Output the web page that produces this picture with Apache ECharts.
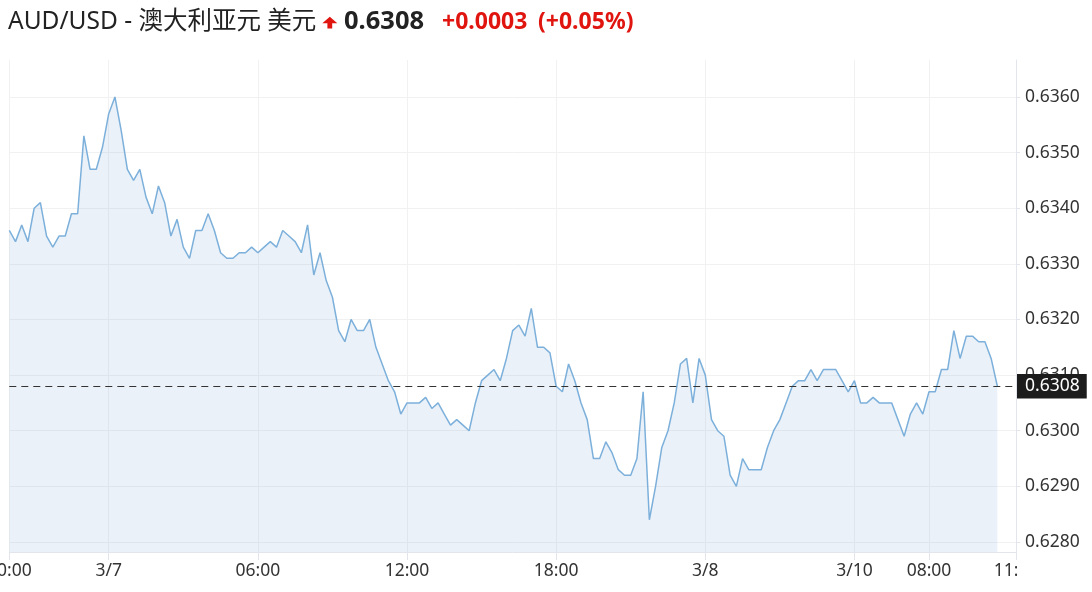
<!DOCTYPE html>
<html>
<head>
<meta charset="utf-8">
<script src="https://cdn.jsdelivr.net/npm/echarts@6/dist/echarts.min.js"></script>
<style>
html,body{margin:0;padding:0;background:#fff;}
#chart{width:1092px;height:592px;}
</style>
</head>
<body>
<div id="chart"></div>
<script>
// ---- data ----
const sessions = [
  ['3/6', '20:00', 16],
  ['3/7', '00:00', 96],
  ['3/8', '00:00', 24],
  ['3/10', '05:00', 24]
];
const padCategories = ['3/10 10:50', '3/10 10:55', '3/10 11:00'];

const prices = [
  0.6336, 0.6334, 0.6337, 0.6334, 0.6340, 0.6341, 0.6335, 0.6333, 0.6335, 0.6335,
  0.6339, 0.6339, 0.6353, 0.6347, 0.6347, 0.6351, 0.6357, 0.6360, 0.6354, 0.6347,
  0.6345, 0.6347, 0.6342, 0.6339, 0.6344, 0.6341, 0.6335, 0.6338, 0.6333, 0.6331,
  0.6336, 0.6336, 0.6339, 0.6336, 0.6332, 0.6331, 0.6331, 0.6332, 0.6332, 0.6333,
  0.6332, 0.6333, 0.6334, 0.6333, 0.6336, 0.6335, 0.6334, 0.6332, 0.6337, 0.6328,
  0.6332, 0.6327, 0.6324, 0.6318, 0.6316, 0.6320, 0.6318, 0.6318, 0.6320, 0.6315,
  0.6312, 0.6309, 0.6307, 0.6303, 0.6305, 0.6305, 0.6305, 0.6306, 0.6304, 0.6305,
  0.6303, 0.6301, 0.6302, 0.6301, 0.6300, 0.6305, 0.6309, 0.6310, 0.6311, 0.6309,
  0.6313, 0.6318, 0.6319, 0.6317, 0.6322, 0.6315, 0.6315, 0.6314, 0.6308, 0.6307,
  0.6312, 0.6309, 0.6305, 0.6302, 0.6295, 0.6295, 0.6298, 0.6296, 0.6293, 0.6292,
  0.6292, 0.6295, 0.6307, 0.6284, 0.6290, 0.6297, 0.6300, 0.6305, 0.6312, 0.6313,
  0.6305, 0.6313, 0.6310, 0.6302, 0.6300, 0.6299, 0.6292, 0.6290, 0.6295, 0.6293,
  0.6293, 0.6293, 0.6297, 0.6300, 0.6302, 0.6305, 0.6308, 0.6309, 0.6309, 0.6311,
  0.6309, 0.6311, 0.6311, 0.6311, 0.6309, 0.6307, 0.6309, 0.6305, 0.6305, 0.6306,
  0.6305, 0.6305, 0.6305, 0.6302, 0.6299, 0.6303, 0.6305, 0.6303, 0.6307, 0.6307,
  0.6311, 0.6311, 0.6318, 0.6313, 0.6317, 0.6317, 0.6316, 0.6316, 0.6313, 0.6308
];

const lastPrice = 0.6308;
const yTicks = [0.6280, 0.6290, 0.6300, 0.6310, 0.6320, 0.6330, 0.6340, 0.6350, 0.6360];
const xLabelText = {
  '3/6 20:00': '20:00',
  '3/7 00:00': '3/7',
  '3/7 06:00': '06:00',
  '3/7 12:00': '12:00',
  '3/7 18:00': '18:00',
  '3/8 00:00': '3/8',
  '3/10 05:00': '3/10',
  '3/10 08:00': '08:00',
  '3/10 11:00': '11:00'
};
const titleMain = 'AUD/USD - 澳大利亚元 美元';
const titlePrice = '0.6308';
const titleChange = '+0.0003';
const titlePct = '(+0.05%)';

// ---- categories (15-minute bars) ----
function sessionTimes(day, start, count) {
  const out = [];
  let [h, m] = start.split(':').map(Number);
  for (let i = 0; i < count; i++) {
    out.push(day + ' ' + String(h).padStart(2, '0') + ':' + String(m).padStart(2, '0'));
    m += 15; if (m >= 60) { m -= 60; h += 1; }
  }
  return out;
}
const categories = [];
sessions.forEach(s => categories.push(...sessionTimes(s[0], s[1], s[2])));
categories.push(...padCategories);

const showLabel = (idx, val) => xLabelText.hasOwnProperty(val);
const FONT = "'Noto Sans', 'Noto Sans CJK SC', sans-serif";
const RED = '#e0150f';

const chart = echarts.init(document.getElementById('chart'));
chart.setOption({
  animation: false,
  backgroundColor: '#fff',
  grid: { left: 9.3, right: 76, top: 60, bottom: 40, containLabel: false, outerBoundsMode: 'none' },
  xAxis: {
    type: 'category',
    data: categories,
    boundaryGap: false,
    axisLine: { show: true, lineStyle: { color: '#e2e5ec' } },
    axisTick: { show: true, interval: showLabel, length: 8, lineStyle: { color: '#e2e5ec' } },
    splitLine: { show: true, interval: showLabel, lineStyle: { color: '#f1f1f1' } },
    axisLabel: {
      interval: showLabel,
      formatter: v => xLabelText[v] || '',
      color: '#333', fontSize: 17.5, fontFamily: FONT, margin: 10
    }
  },
  yAxis: {
    type: 'value',
    position: 'right',
    min: 0.62782,
    max: 0.636665,
    axisLine: { show: true, lineStyle: { color: '#e2e5ec' } },
    axisTick: { show: true, length: 4, customValues: yTicks, lineStyle: { color: '#e2e5ec' } },
    splitLine: { show: true, lineStyle: { color: '#f1f1f1' } },
    axisLabel: {
      customValues: yTicks,
      formatter: v => v.toFixed(4),
      color: '#333', fontSize: 17.5, fontFamily: FONT, margin: 9
    }
  },
  series: [{
    type: 'line',
    data: prices,
    symbol: 'none',
    lineStyle: { color: '#7cb0db', width: 1.5 },
    areaStyle: { color: 'rgba(105,155,205,0.2)' },
    markLine: {
      silent: true,
      symbol: 'none',
      precision: 4,
      lineStyle: { type: [7, 5], color: '#333', width: 1 },
      label: {
        position: 'end', distance: 1,
        formatter: () => lastPrice.toFixed(4),
        color: '#fff', backgroundColor: '#1c1c1c',
        padding: [4, 7, 3, 8], fontSize: 17.5, fontFamily: FONT
      },
      data: [{ yAxis: lastPrice }]
    }
  }],
  graphic: [
    { type: 'text', x: 8, y: 22, style: { text: titleMain, font: "24.5px 'Noto Sans', 'Noto Sans CJK SC'", fill: '#222', verticalAlign: 'middle' } },
    { type: 'polygon', shape: { points: [[329.8, 16.7], [337.3, 23.3], [332.2, 23.3], [332.2, 28.5], [327.4, 28.5], [327.4, 23.3], [322.3, 23.3]] }, style: { fill: RED } },
    { type: 'text', x: 344, y: 22, style: { text: titlePrice, font: "bold 25.5px 'Noto Sans'", fill: '#222', verticalAlign: 'middle' } },
    { type: 'text', x: 442, y: 22, style: { text: titleChange, font: "bold 23px 'Noto Sans'", fill: RED, verticalAlign: 'middle' } },
    { type: 'text', x: 538, y: 22, style: { text: titlePct, font: "bold 23px 'Noto Sans'", fill: RED, verticalAlign: 'middle' } },
    { type: 'rect', shape: { x: 1017, y: 556, width: 75, height: 36 }, style: { fill: '#fff' }, z: 100 }
  ]
});
</script>
</body>
</html>
